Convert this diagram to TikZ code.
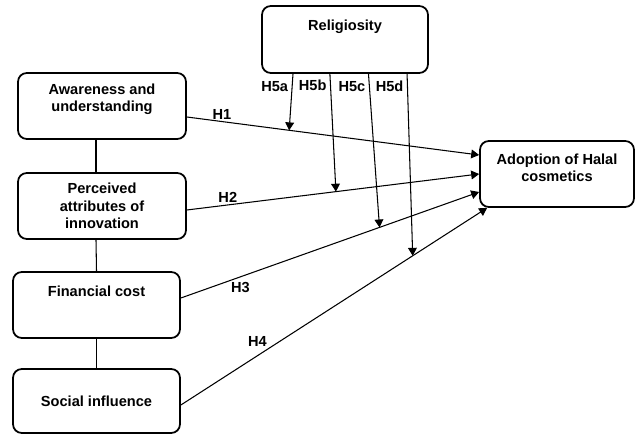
\documentclass[tikz,border=0pt]{standalone}
\usepackage{fontspec}
\setmainfont{Liberation Sans}
\usepackage{tikz}
\usetikzlibrary{arrows.meta, positioning, calc}

\begin{document}
\begin{tikzpicture}[
    construct/.style={rectangle, rounded corners=5pt, draw=black, line width=1pt, minimum width=#1, minimum height=1.32cm, align=center, inner sep=2pt, font=\fontsize{8.3}{9.8}\selectfont\bfseries},
    construct/.default=3.36cm,
    link/.style={line width=0.6pt},
    arrow/.style={-{Triangle[length=4.5pt, width=5pt]}, line width=0.6pt},
    hyp/.style={font=\fontsize{8.3}{9.8}\selectfont\bfseries, inner sep=1pt}
]
\useasboundingbox (0,0) rectangle (12.7,-8.7);

% Independent constructs
\node[construct, text depth=9pt] (aware) at (2.04,-2.12) {Awareness and\\understanding};
\node[construct] (perceived) at (2.04,-4.12) {Perceived\\attributes of\\innovation};
\node[construct=3.34cm, text depth=16pt] (cost) at (1.93,-6.10) {Financial cost};
\node[construct=3.34cm, minimum height=1.28cm] (social) at (1.93,-8.02) {Social influence};

% Moderator and outcome
\node[construct=3.32cm, minimum height=1.34cm, text depth=16pt] (relig) at (6.90,-0.79) {Religiosity};
\node[construct=3.08cm, text depth=7pt] (adopt) at (11.14,-3.48) {Adoption of Halal\\cosmetics};

% Links between constructs
\draw[link] ([xshift=-0.12cm]aware.south) -- ([xshift=-0.12cm]perceived.north);
\draw[link] ([xshift=-0.12cm]perceived.south) -- (cost.north);
\draw[link] (cost.south) -- (social.north);

% Hypotheses H1-H4
\draw[arrow] ([yshift=-0.22cm]aware.east) -- node[hyp, pos=0.12, above] {H1} coordinate[pos=0.35] (m1) ([yshift=0.38cm]adopt.west);
\draw[arrow] ([yshift=-0.08cm]perceived.east) -- node[hyp, pos=0.14, above] {H2} coordinate[pos=0.51] (m2) (adopt.west);
\draw[arrow] ([yshift=0.14cm]cost.east) -- node[hyp, pos=0.2, below=2pt] {H3} coordinate[pos=0.666] (m3) ([yshift=-0.36cm]adopt.west);
\draw[arrow] ([yshift=-0.08cm]social.east) -- node[hyp, pos=0.25, above=4pt] {H4} coordinate[pos=0.757] (m4) ([xshift=0.16cm]adopt.south west);

% Moderation H5a-H5d
\draw[arrow] ($(relig.south west)!0.19!(relig.south east)$) -- node[hyp, pos=0.23, left=1pt] {H5a} (m1);
\draw[arrow] ($(relig.south west)!0.41!(relig.south east)$) -- node[hyp, pos=0.1, left=1pt] {H5b} (m2);
\draw[arrow] ($(relig.south west)!0.64!(relig.south east)$) -- node[hyp, pos=0.08, left=1pt] {H5c} (m3);
\draw[arrow] ($(relig.south west)!0.87!(relig.south east)$) -- node[hyp, pos=0.067, left=1pt] {H5d} (m4);

\end{tikzpicture}
\end{document}
